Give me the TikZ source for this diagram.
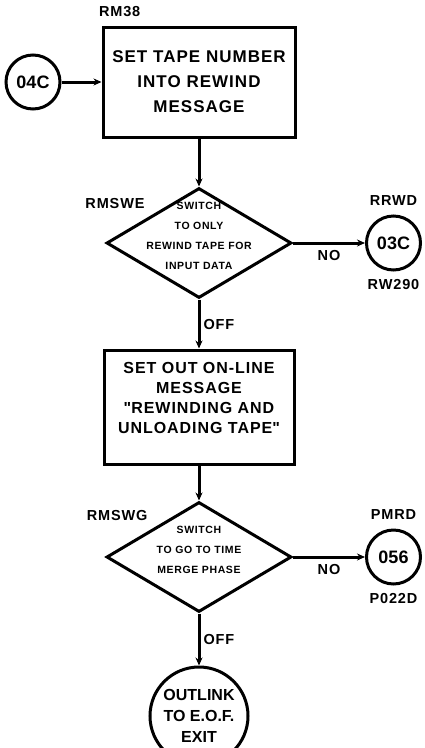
\documentclass[tikz,border=0pt]{standalone}
\usepackage{fontspec}
\setmainfont{Liberation Sans}
\usetikzlibrary{arrows.meta,positioning,shapes.geometric}
\newcommand{\wide}{\addfontfeature{LetterSpace=6}}
\newcommand{\dtext}[1]{\smash{\raisebox{5pt}{\makebox[0pt]{\fontsize{10.5}{20}\selectfont\wide\begin{tabular}{@{}c@{}}#1\end{tabular}}}}}

\begin{document}
\begin{tikzpicture}[x=1pt,y=-1pt,font=\bfseries,line width=3pt,
      proc/.style={draw,minimum width=192pt,minimum height=110pt,align=center,inner sep=2pt},
      decision/.style={draw,diamond,aspect=1.68,minimum width=185pt,minimum height=110pt,inner sep=0pt},
      conn/.style={draw,circle,minimum size=54pt,inner sep=0pt,font=\bfseries\fontsize{18}{20}\selectfont},
      tag/.style={inner sep=1pt,font=\bfseries\fontsize{14.5}{18}\selectfont\wide},
      flow/.style={-{Stealth[length=8pt,width=7pt]}}]
      \useasboundingbox (0,0) rectangle (424,748);
      \node[proc,font=\bfseries\fontsize{17}{25}\selectfont\wide] (setnum) at (199,82) {SET TAPE NUMBER\\INTO REWIND\\MESSAGE};
      \node[decision,below=48pt of setnum] (swe) {\dtext{SWITCH\\TO ONLY\\REWIND TAPE FOR\\INPUT DATA}};
      \node[proc,below=49pt of swe,minimum width=190pt,minimum height=114pt,text depth=19pt,
        font=\bfseries\fontsize{16}{20}\selectfont\wide] (online) {SET OUT ON-LINE\\MESSAGE\\\textquotedbl REWINDING AND\\UNLOADING TAPE\textquotedbl};
      \node[decision,below=35pt of online] (swg) {\dtext{SWITCH\\TO GO TO TIME\\MERGE PHASE}};
      \node[conn,below=52pt of swg,minimum size=98pt,align=center,
        font=\bfseries\fontsize{16}{21}\selectfont] (exit) {OUTLINK\\TO E.O.F.\\EXIT};
      \node[conn,left=40pt of setnum] (c04) {04C};
      \node[conn,right=72pt of swe] (c03) {03C};
      \node[conn,right=72pt of swg] (c056) {056};
      % entry and exit names
      \node[tag,above right=6pt and -5pt of setnum.north west] (rm38) {RM38};
      \node[tag,above left=4pt and 5pt of swe.north west] (rmswe) {RMSWE};
      \node[tag,above left=6pt and 2pt of swg.north west] (rmswg) {RMSWG};
      \node[tag,above=7pt of c03] (rrwd) {RRWD};
      \node[tag,below=5pt of c03] (rw290) {RW290};
      \node[tag,above=7pt of c056] (pmrd) {PMRD};
      \node[tag,below=5pt of c056] (p022d) {P022D};
      \draw[flow] (c04) -- (setnum);
      \draw[flow] (setnum) -- (swe);
      \draw[flow] (swe) -- node[tag,right=2pt] (off1) {OFF} (online);
      \draw[flow] (swe) -- node[tag,below=5pt] (no1) {NO} (c03);
      \draw[flow] (online) -- (swg);
      \draw[flow] (swg) -- node[tag,below=5pt] (no2) {NO} (c056);
      \draw[flow] (swg) -- node[tag,right=2pt] (off2) {OFF} (exit);
    \end{tikzpicture}
\end{document}
